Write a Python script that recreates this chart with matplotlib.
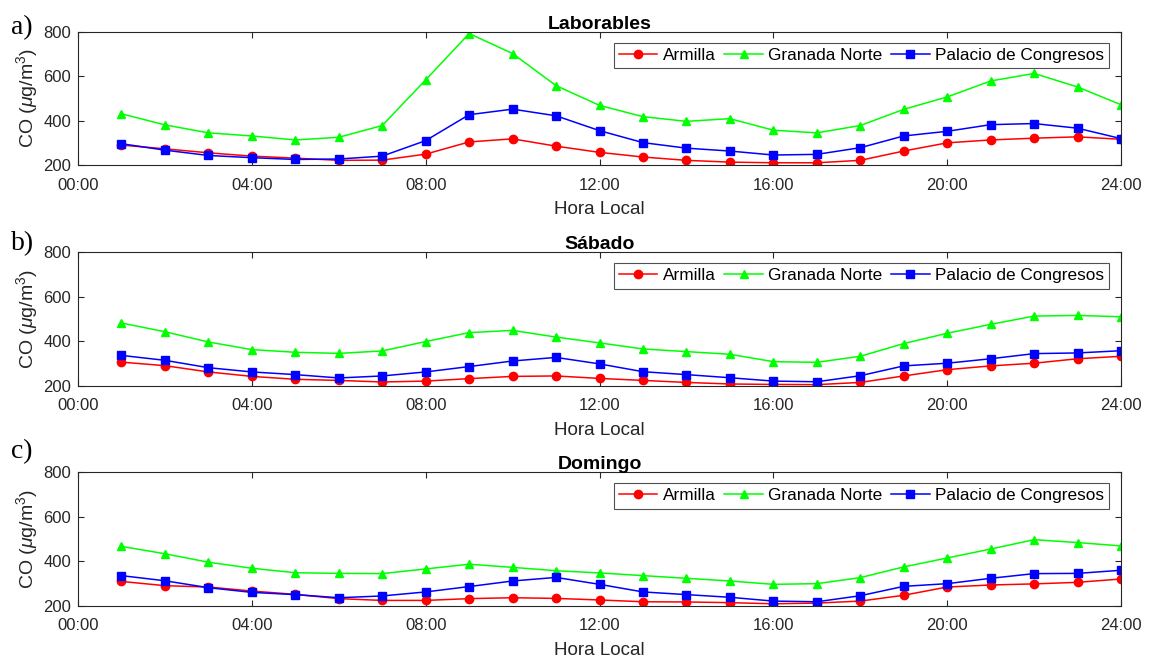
import numpy as np
import matplotlib.pyplot as plt

plt.rcParams['font.family'] = ['Liberation Sans', 'DejaVu Sans']
plt.rcParams['mathtext.fontset'] = 'custom'
plt.rcParams['mathtext.rm'] = 'Liberation Sans'
plt.rcParams['mathtext.it'] = 'Liberation Sans:italic'

# hourly means of CO, hours 1..24
hours = np.arange(1, 25)
stations = ['Armilla', 'Granada Norte', 'Palacio de Congresos']

lab_armilla = [290, 273, 255, 240, 231, 221, 222, 249, 304, 318, 285, 257,
               236, 221, 213, 210, 210, 221, 263, 300, 313, 321, 327, 316]
lab_norte = [431, 381, 345, 331, 313, 325, 378, 584, 793, 703, 558, 469,
             418, 397, 409, 357, 345, 378, 451, 507, 579, 613, 552, 472]
lab_palacio = [296, 267, 243, 233, 225, 227, 240, 310, 427, 452, 422, 355,
               301, 276, 263, 245, 248, 278, 331, 352, 382, 387, 366, 319]

sab_armilla = [307, 291, 263, 243, 230, 225, 218, 222, 233, 243, 245, 234,
               225, 216, 209, 207, 206, 216, 245, 273, 290, 302, 322, 333]
sab_norte = [482, 443, 397, 363, 351, 346, 357, 399, 439, 449, 419, 393,
             366, 354, 342, 309, 306, 333, 390, 436, 476, 513, 516, 510]
sab_palacio = [337, 315, 282, 263, 251, 236, 245, 263, 287, 312, 328, 299,
               264, 251, 237, 222, 219, 246, 290, 302, 322, 345, 348, 358]

dom_armilla = [310, 291, 285, 267, 252, 233, 225, 225, 233, 237, 234, 227,
               219, 218, 215, 210, 213, 222, 248, 285, 294, 299, 306, 321]
dom_norte = [467, 434, 396, 369, 349, 346, 345, 366, 387, 373, 358, 348,
             336, 324, 312, 297, 300, 327, 375, 415, 455, 497, 484, 469]
dom_palacio = [336, 313, 282, 261, 251, 237, 245, 263, 287, 312, 328, 297,
               263, 251, 239, 222, 219, 246, 288, 300, 324, 345, 346, 360]

panels = [
    ('a)', 'Laborables', [lab_armilla, lab_norte, lab_palacio]),
    ('b)', 'Sábado', [sab_armilla, sab_norte, sab_palacio]),
    ('c)', 'Domingo', [dom_armilla, dom_norte, dom_palacio]),
]

colors = ['#ff0000', '#00ff00', '#0000ff']
markers = ['o', '^', 's']
tick_hours = [0, 4, 8, 12, 16, 20, 24]

W, H = 1149, 657
fig = plt.figure(figsize=(W / 100, H / 100), dpi=100)
# axes boxes in pixels: left, top, right, bottom
boxes = [(78, 32, 1121, 165), (78, 252, 1121, 386), (78, 472, 1121, 606)]
letter_base = [34, 250, 458]

for (letter, title, series), (l, t, r, bt), lb in zip(panels, boxes, letter_base):
    ax = fig.add_axes([l / W, 1 - bt / H, (r - l) / W, (bt - t) / H])
    for vals, name, c, m in zip(series, stations, colors, markers):
        ax.plot(hours, vals, color=c, marker=m, markersize=6, lw=1.1, label=name)
    ax.set_xlim(0, 24)
    ax.set_ylim(200, 800)
    ax.set_xticks(tick_hours)
    ax.set_xticklabels(['%02d:00' % h for h in tick_hours])
    ax.set_yticks([200, 400, 600, 800])
    ax.tick_params(direction='in', top=True, right=True, length=4.5,
                   labelsize=12, colors='#262626')
    ax.tick_params(axis='x', pad=9)
    ax.tick_params(axis='y', pad=5)
    for s in ax.spines.values():
        s.set_color('#262626')
        s.set_linewidth(0.8)
    ax.set_xlabel('Hora Local', fontsize=13.5, color='#262626', labelpad=6)
    ax.set_ylabel(r'CO ($\mu$g/m$^3$)', fontsize=14, color='#262626', labelpad=2)
    ax.set_title(title, fontsize=14, fontweight='bold', pad=2)
    leg = ax.legend(loc='upper right', ncol=3, fontsize=12.4, frameon=True,
                    fancybox=False, edgecolor='#262626', handlelength=2.25,
                    handletextpad=0.3, columnspacing=0.5, borderpad=0.3,
                    borderaxespad=0, bbox_to_anchor=(0.9885, 0.917))
    leg.get_frame().set_linewidth(0.8)
    fig.text(11 / W, 1 - lb / H, letter, fontsize=20, family='Liberation Serif',
             va='baseline')

fig.savefig('out.png', dpi=100)
